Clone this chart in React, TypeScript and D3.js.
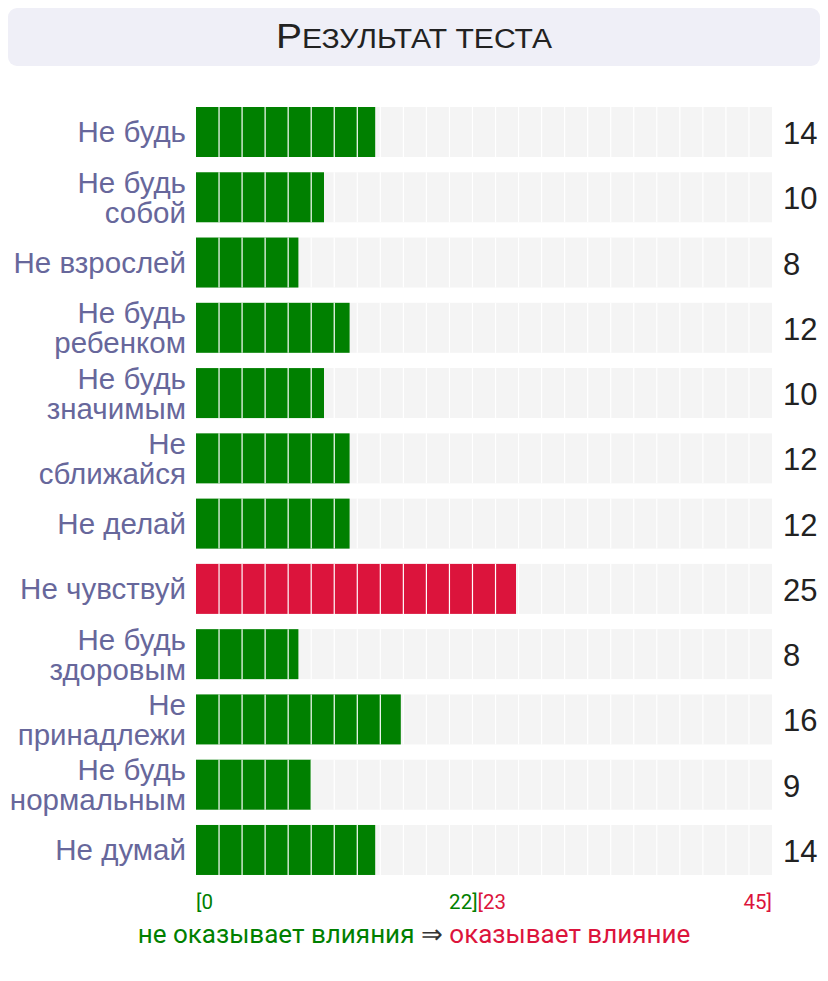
import React, { useMemo } from "react";
import * as d3 from "d3";

const categories = [
  "Не будь",
  "Не будь собой",
  "Не взрослей",
  "Не будь ребенком",
  "Не будь значимым",
  "Не сближайся",
  "Не делай",
  "Не чувствуй",
  "Не будь здоровым",
  "Не принадлежи",
  "Не будь нормальным",
  "Не думай",
];
const values = [14, 10, 8, 12, 10, 12, 12, 25, 8, 16, 9, 14];
const maxValue = 45;
const threshold = 22;
const cellCount = 25;
const title = "Результат теста";
const tickLeft = "[0";
const tickMidLow = "22]";
const tickMidHigh = "[23";
const tickRight = "45]";
const legendLow = "не оказывает влияния";
const legendArrow = " ⇒ ";
const legendHigh = "оказывает влияние";

const W = 828;
const H = 981;
const GREEN = "#008000";
const RED = "#dc143c";
const LABEL = "#67679b";
const LABEL_FONT = "'Liberation Sans', Arial, sans-serif";
const LABEL_SIZE = 29.5;

function wrap(text: string, maxW: number): string[] {
  const canvas = document.createElement("canvas");
  const ctx = canvas.getContext("2d")!;
  ctx.font = `${LABEL_SIZE}px ${LABEL_FONT}`;
  const words = text.split(" ");
  const lines: string[] = [];
  let cur = "";
  for (const w of words) {
    const t = cur ? cur + " " + w : w;
    if (ctx.measureText(t).width > maxW && cur) {
      lines.push(cur);
      cur = w;
    } else cur = t;
  }
  if (cur) lines.push(cur);
  return lines;
}

export default function App() {
  const x = d3.scaleLinear().domain([0, maxValue]).range([196, 772]);
  const step = 65.27;
  const y = d3
    .scaleBand<string>()
    .domain(categories)
    .range([107 - step * 0.117, 107 - step * 0.117 + step * categories.length])
    .paddingInner(0.234)
    .paddingOuter(0.117);
  const bw = y.bandwidth();
  const cellW = (x(maxValue) - x(0)) / cellCount;
  const cells = d3.range(cellCount);
  const wrapped = useMemo(() => categories.map((c) => wrap(c, 186)), []);

  return (
    <svg width={W} height={H} style={{ display: "block", position: "absolute", left: 0, top: 0 }}>
      <rect x={8} y={8} width={812} height={58} rx={9} fill="#efeff7" />
      <text
        x={414}
        y={48}
        textAnchor="middle"
        fill="#222"
        fontFamily="'Liberation Sans', Arial, sans-serif"
        textLength={276}
        lengthAdjust="spacingAndGlyphs"
      >
        <tspan fontSize={35}>{title[0].toUpperCase()}</tspan>
        <tspan fontSize={27}>{title.slice(1).toUpperCase()}</tspan>
      </text>

      {categories.map((c, i) => {
        const y0 = y(c)!;
        const v = values[i];
        const color = v > threshold ? RED : GREEN;
        const lines = wrapped[i];
        const cy = y0 + bw / 2;
        const lh = 30;
        const first = cy + 10.5 - ((lines.length - 1) * lh) / 2;
        return (
          <g key={c}>
            <rect x={x(0)} y={y0} width={x(maxValue) - x(0)} height={bw} fill="#f4f4f4" />
            <rect x={x(0)} y={y0} width={x(v) - x(0)} height={bw} fill={color} />
            {cells.slice(1).map((k) => (
              <line
                key={k}
                x1={x(0) + k * cellW}
                x2={x(0) + k * cellW}
                y1={y0}
                y2={y0 + bw}
                stroke="#fff"
                strokeWidth={1.2}
              />
            ))}
            <text
              textAnchor="end"
              fill={LABEL}
              fontFamily={LABEL_FONT}
              fontSize={LABEL_SIZE}
            >
              {lines.map((l, j) => (
                <tspan key={j} x={186} y={first + j * lh}>
                  {l}
                </tspan>
              ))}
            </text>
            <text
              x={783}
              y={cy + 12}
              fill="#222"
              fontFamily={LABEL_FONT}
              fontSize={31}
            >
              {v}
            </text>
          </g>
        );
      })}

      <g fontFamily="Roboto, sans-serif" fontSize={20.5}>
        <text x={x(0)} y={909} fill={GREEN}>{tickLeft}</text>
        <text x={x(threshold)} y={909} fill={GREEN} textAnchor="end">{tickMidLow}</text>
        <text x={x(threshold)} y={909} fill={RED}>{tickMidHigh}</text>
        <text x={x(maxValue)} y={909} fill={RED} textAnchor="end">{tickRight}</text>
      </g>
      <text x={414} y={943} textAnchor="middle" fontFamily="Roboto, sans-serif" fontSize={26}>
        <tspan fill={GREEN}>{legendLow}</tspan>
        <tspan fill="#333">{legendArrow}</tspan>
        <tspan fill={RED}>{legendHigh}</tspan>
      </text>
    </svg>
  );
}
